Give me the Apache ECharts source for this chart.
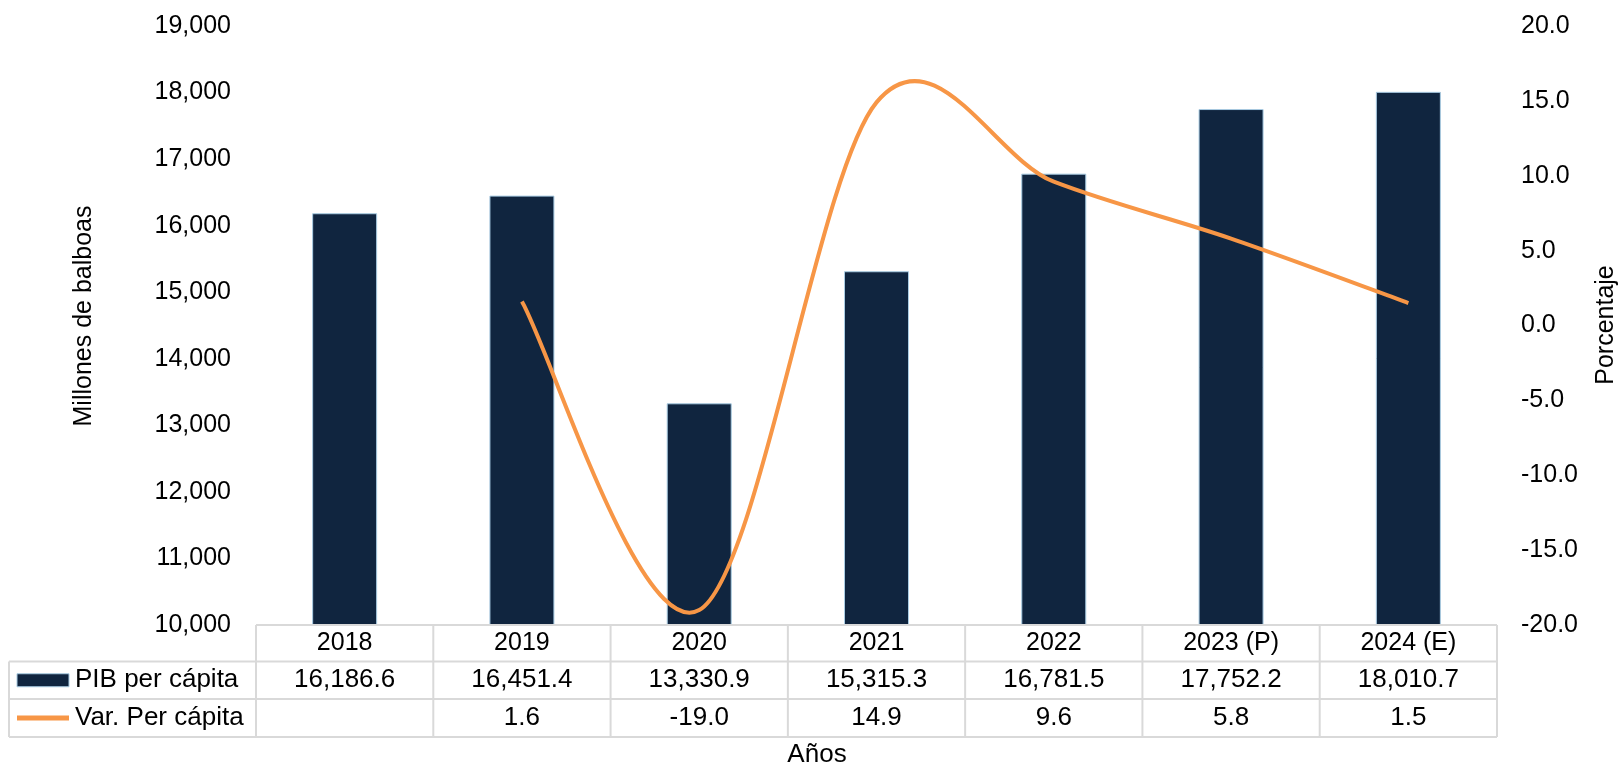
<!DOCTYPE html>
<html>
<head>
<meta charset="utf-8">
<script src="https://cdn.jsdelivr.net/npm/echarts@6/dist/echarts.min.js"></script>
<style>
html,body{margin:0;padding:0;background:#fff;}
#chart{width:1622px;height:769px;}
</style>
</head>
<body>
<div id="chart"></div>
<script>
const categories = ['2018', '2019', '2020', '2021', '2022', '2023 (P)', '2024 (E)'];
const pibPerCapita = [16186.6, 16451.4, 13330.9, 15315.3, 16781.5, 17752.2, 18010.7];
const varPerCapita = [null, 1.6, -19.0, 14.9, 9.6, 5.8, 1.5];
const leftTicks = { min: 10000, max: 19000, interval: 1000 };
const rightTicks = { min: -20, max: 20, interval: 5 };
const seriesNames = ['PIB per cápita', 'Var. Per cápita'];

const FONT = "'Liberation Sans', Arial, sans-serif";
const BAR_COLOR = '#10253F';
const BAR_BORDER = '#A9CCE3';
const LINE_COLOR = '#F79646';
const GRID_LINE = '#D9D9D9';

const GRID = { left: 256, right: 125, top: 26, bottom: 144 };

const chart = echarts.init(document.getElementById('chart'), null, { renderer: 'canvas' });

const fmtPib = v => v.toLocaleString('en-US', { minimumFractionDigits: 1, maximumFractionDigits: 1 });
const fmtVar = v => (v === null ? '' : v.toFixed(1));

// Excel-style smoothed line (cardinal spline, tension 1/6) drawn through axis coordinates
const lineData = varPerCapita.map((v, i) => [i, v]).filter(d => d[1] !== null);
function renderSmoothLine(params, api) {
  if (params.dataIndex !== 0) return null;
  const pts = lineData.map(d => api.coord([d[0], d[1]]));
  let path = 'M' + pts[0][0] + ' ' + pts[0][1];
  for (let i = 0; i < pts.length - 1; i++) {
    const p0 = pts[Math.max(i - 1, 0)];
    const p1 = pts[i];
    const p2 = pts[i + 1];
    const p3 = pts[Math.min(i + 2, pts.length - 1)];
    const c1x = p1[0] + (p2[0] - p0[0]) / 6;
    const c1y = p1[1] + (p2[1] - p0[1]) / 6;
    const c2x = p2[0] - (p3[0] - p1[0]) / 6;
    const c2y = p2[1] - (p3[1] - p1[1]) / 6;
    path += ' C' + c1x + ' ' + c1y + ' ' + c2x + ' ' + c2y + ' ' + p2[0] + ' ' + p2[1];
  }
  return {
    type: 'path',
    shape: { pathData: path },
    style: { fill: 'none', stroke: LINE_COLOR, lineWidth: 4, lineCap: 'butt', lineJoin: 'round' }
  };
}

chart.setOption({
  animation: false,
  textStyle: { fontFamily: FONT },
  grid: { left: GRID.left, right: GRID.right, top: GRID.top, bottom: GRID.bottom, containLabel: false },
  xAxis: {
    type: 'category',
    data: categories,
    axisLine: { show: false },
    axisTick: { show: false },
    axisLabel: { color: '#000', fontSize: 25, fontFamily: FONT, margin: 6, interval: 0 }
  },
  yAxis: [
    {
      type: 'value',
      min: leftTicks.min, max: leftTicks.max, interval: leftTicks.interval,
      axisLine: { show: false }, axisTick: { show: false }, splitLine: { show: false },
      axisLabel: {
        color: '#000', fontSize: 25, fontFamily: FONT, margin: 25,
        formatter: v => v.toLocaleString('en-US')
      }
    },
    {
      type: 'value',
      min: rightTicks.min, max: rightTicks.max, interval: rightTicks.interval,
      position: 'right',
      axisLine: { show: false }, axisTick: { show: false }, splitLine: { show: false },
      axisLabel: {
        color: '#000', fontSize: 25, fontFamily: FONT, margin: 24,
        formatter: v => v.toFixed(1)
      }
    }
  ],
  series: [
    {
      name: seriesNames[0],
      type: 'bar',
      data: pibPerCapita,
      yAxisIndex: 0,
      barWidth: 65,
      itemStyle: { color: BAR_COLOR, borderColor: BAR_BORDER, borderWidth: 1 }
    },
    {
      name: seriesNames[1],
      type: 'custom',
      data: lineData,
      yAxisIndex: 1,
      encode: { x: 0, y: 1 },
      renderItem: renderSmoothLine,
      clip: false,
      z: 5
    }
  ]
});

// Data table drawn beneath the plot, using the axis scale for column positions
function buildTable() {
  const gridBottom = 769 - GRID.bottom;          // y of table top
  const plotLeft = GRID.left;
  const plotRight = 1622 - GRID.right;
  const colW = (plotRight - plotLeft) / categories.length;
  const rowH = [36.5, 37.5, 38];
  const y0 = gridBottom;
  const y1 = y0 + rowH[0];
  const y2 = y1 + rowH[1];
  const y3 = y2 + rowH[2];
  const tableLeft = 9;
  const els = [];
  const lineStyle = { stroke: GRID_LINE, lineWidth: 2 };
  const hline = (x1, x2, y) => els.push({ type: 'line', shape: { x1, y1: y, x2, y2: y }, style: lineStyle, z: 10 });
  const vline = (x, ya, yb) => els.push({ type: 'line', shape: { x1: x, y1: ya, x2: x, y2: yb }, style: lineStyle, z: 10 });
  hline(plotLeft, plotRight, y0);
  hline(tableLeft, plotRight, y1);
  hline(tableLeft, plotRight, y2);
  hline(tableLeft, plotRight, y3);
  vline(tableLeft, y1, y3);
  for (let i = 0; i <= categories.length; i++) vline(plotLeft + i * colW, y0, y3);

  const textStyle = (t, x, y, align) => ({
    type: 'text', x, y, z: 11,
    style: { text: t, fontSize: 26, fontFamily: FONT, fill: '#000', align: align || 'center', verticalAlign: 'middle' }
  });
  categories.forEach((c, i) => {
    const cx = chart.convertToPixel({ xAxisIndex: 0 }, c);
    els.push(textStyle(fmtPib(pibPerCapita[i]), cx, (y1 + y2) / 2));
    els.push(textStyle(fmtVar(varPerCapita[i]), cx, (y2 + y3) / 2));
  });
  // legend keys
  els.push({ type: 'rect', shape: { x: 17, y: (y1 + y2) / 2 - 6.5, width: 52, height: 13 },
             style: { fill: BAR_COLOR, stroke: BAR_BORDER, lineWidth: 1 }, z: 11 });
  els.push({ type: 'rect', shape: { x: 17, y: (y2 + y3) / 2 - 2.5, width: 52, height: 5 },
             style: { fill: LINE_COLOR }, z: 11 });
  els.push(textStyle(seriesNames[0], 75, (y1 + y2) / 2, 'left'));
  els.push(textStyle(seriesNames[1], 75, (y2 + y3) / 2, 'left'));
  // axis titles
  els.push({ type: 'text', x: 84, y: 316, rotation: Math.PI / 2, z: 11,
             style: { text: 'Millones de balboas', fontSize: 25, fontFamily: FONT, fill: '#000', align: 'center', verticalAlign: 'middle' } });
  els.push({ type: 'text', x: 1606, y: 325, rotation: Math.PI / 2, z: 11,
             style: { text: 'Porcentaje', fontSize: 25, fontFamily: FONT, fill: '#000', align: 'center', verticalAlign: 'middle' } });
  els.push({ type: 'text', x: 817, y: 755, z: 11,
             style: { text: 'Años', fontSize: 26, fontFamily: FONT, fill: '#000', align: 'center', verticalAlign: 'middle' } });
  chart.setOption({ graphic: { elements: els } });
}
buildTable();
</script>
</body>
</html>
